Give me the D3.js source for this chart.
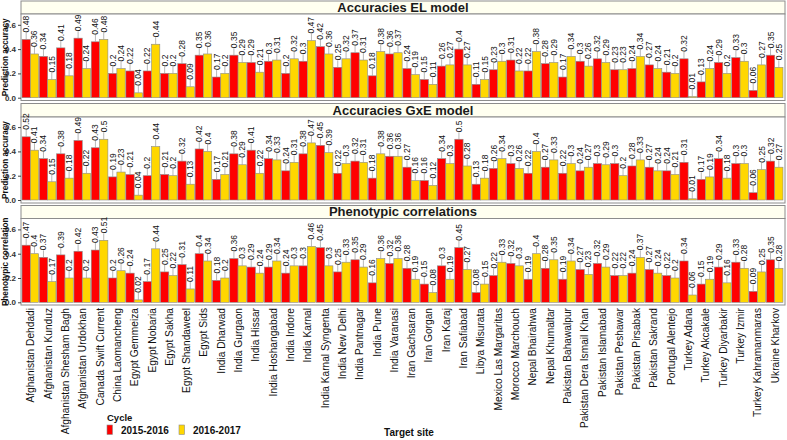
<!DOCTYPE html>
<html><head><meta charset="utf-8">
<script src="https://cdn.jsdelivr.net/npm/d3@7"></script>
<style>body{margin:0;background:#fff;} svg{display:block;font-family:"Liberation Sans",Arial,sans-serif;}</style>
</head><body>
<svg id="chart" width="787" height="440"></svg>
<script>
const categories = ["Afghanistan Dehdadi","Afghanistan Kunduz","Afghanistan Shesham Bagh","Afghanistan Urdokhan","Canada Swift Current","China Laomancheng","Egypt Gemmeiza","Egypt Nobaria","Egypt Sakha","Egypt Shandaweel","Egypt Sids","India Dharwad","India Gurgaon","India Hissar","India Hoshangabad","India Indore","India Karnal","India Karnal Syngenta","India New Delhi","India Pantnagar","India Pune","India Varanasi","Iran Gachsaran","Iran Gorgan","Iran Karaj","Iran Safiabad","Libya Misurata","Mexico Las Margaritas","Morocco Marchouch","Nepal Bhairahwa","Nepal Khumaltar","Pakistan Bahawalpur","Pakistan Dera Ismail Khan","Pakistan Islamabad","Pakistan Peshawar","Pakistan Pirsabak","Pakistan Sakrand","Portugal Alentejo","Turkey Adana","Turkey Akcakale","Turkey Diyarbakir","Turkey Izmir","Turkey Kahramanmaras","Ukraine Kharkov"];
const cycles = ["2015-2016","2016-2017"];
const panelTitles = ["Accuracies EL model","Accuracies GxE model","Phenotypic correlations"];
const yTitles = ["Prediction accuracy","Prediction accuracy","Phenotypic correlation"];
const yTicks = [0.0,0.2,0.4,0.6];

const elCycle1 = [0.48,0.34,0.41,0.49,0.46,0.2,0.22,0.22,0.2,0.28,0.35,0.17,0.35,0.29,0.3,0.2,0.3,0.42,0.25,0.37,0.18,0.36,0.24,0.15,0.26,0.4,0.11,0.23,0.31,0.22,0.28,0.17,0.3,0.32,0.23,0.24,0.27,0.21,0.32,0.13,0.29,0.33,0.06,0.35];
const elCycle2 = [0.36,0.15,0.18,0.24,0.48,0.24,0.04,0.44,0.2,0.09,0.36,0.2,0.29,0.21,0.31,0.32,0.47,0.36,0.32,0.31,0.38,0.37,0.19,0.11,0.27,0.27,0.15,0.3,0.22,0.38,0.29,0.34,0.26,0.29,0.23,0.34,0.24,0.2,0.01,0.24,0.2,0.3,0.27,0.25];
const gxeCycle1 = [0.52,0.34,0.38,0.49,0.43,0.19,0.21,0.2,0.21,0.32,0.42,0.17,0.38,0.41,0.34,0.24,0.38,0.45,0.22,0.32,0.18,0.36,0.27,0.16,0.34,0.5,0.13,0.26,0.3,0.22,0.27,0.22,0.24,0.3,0.3,0.28,0.27,0.24,0.31,0.17,0.34,0.3,0.06,0.32];
const gxeCycle2 = [0.41,0.15,0.18,0.22,0.5,0.23,0.04,0.44,0.2,0.13,0.4,0.21,0.29,0.22,0.33,0.31,0.47,0.39,0.3,0.31,0.38,0.36,0.16,0.12,0.3,0.28,0.18,0.34,0.26,0.4,0.33,0.3,0.27,0.29,0.2,0.33,0.24,0.21,0.01,0.19,0.18,0.3,0.25,0.27];
const phenCycle1 = [0.47,0.37,0.39,0.42,0.43,0.2,0.24,0.17,0.25,0.31,0.4,0.18,0.36,0.29,0.29,0.24,0.3,0.45,0.25,0.35,0.16,0.32,0.28,0.15,0.3,0.45,0.08,0.22,0.32,0.19,0.28,0.19,0.27,0.32,0.22,0.24,0.27,0.22,0.34,0.15,0.29,0.33,0.09,0.35];
const phenCycle2 = [0.4,0.17,0.2,0.2,0.51,0.26,0.02,0.44,0.22,0.11,0.34,0.2,0.3,0.24,0.34,0.3,0.46,0.3,0.33,0.29,0.36,0.36,0.19,0.08,0.19,0.27,0.15,0.33,0.3,0.4,0.35,0.34,0.23,0.29,0.22,0.37,0.24,0.2,0.06,0.19,0.16,0.28,0.25,0.28];

const panelSeries = [[elCycle1,elCycle2],[gxeCycle1,gxeCycle2],[phenCycle1,phenCycle2]];
const colors = ["#FF0000","#FFD700"];

const svg = d3.select("#chart");
const left = 21, right = 785;
const x = d3.scaleBand().domain(categories).range([left+0.5, right-1.5]).paddingInner(0.04).paddingOuter(0.03);
const xs = d3.scaleBand().domain(cycles).range([0, x.bandwidth()]);

const panels = [
  {stripTop:1, stripBot:14, plotBot:100.5, y0:97.7},
  {stripTop:103.5, stripBot:117, plotBot:203, y0:200},
  {stripTop:205.5, stripBot:218.5, plotBot:305, y0:302.3}
];
const pxPerUnit = 121.5;

panels.forEach((p,i)=>{
  const y = d3.scaleLinear().domain([0, (p.y0 - p.stripBot)/pxPerUnit]).range([p.y0, p.stripBot]);
  const g = svg.append("g");
  g.append("rect").attr("x",left).attr("y",p.stripTop).attr("width",right-left).attr("height",p.stripBot-p.stripTop)
    .attr("fill","#FFFFF0").attr("stroke","#8c8c8c").attr("stroke-width",1);
  g.append("text").attr("x",(left+right)/2).attr("y",p.stripBot-2.5).attr("text-anchor","middle")
    .attr("font-size",13).attr("font-weight","bold").attr("fill","#1a1a1a").text(panelTitles[i]);
  g.append("rect").attr("x",left).attr("y",p.stripBot).attr("width",right-left).attr("height",p.plotBot-p.stripBot)
    .attr("fill","#fff").attr("stroke","#8c8c8c").attr("stroke-width",1);
  const ax = g.append("g").attr("transform",`translate(${left},0)`)
    .call(d3.axisLeft(y).tickValues(yTicks).tickFormat(d3.format(".1f")).tickSize(3).tickPadding(2));
  ax.select(".domain").remove();
  ax.selectAll("line").attr("stroke","#444");
  ax.selectAll("text").attr("font-size",8).attr("font-weight","bold").attr("fill","#333")
    .attr("font-family","Liberation Sans, Arial, sans-serif");
  g.append("text").attr("transform",`translate(8,${(p.stripBot+p.plotBot)/2}) rotate(-90)`)
    .attr("text-anchor","middle").attr("font-size",8.2).attr("font-weight","bold").attr("fill","#111").text(yTitles[i]);
  panelSeries[i].forEach((vals,s)=>{
    const data = categories.map((c,k)=>({c, v:vals[k]}));
    const bg = g.append("g");
    bg.selectAll("rect").data(data).join("rect")
      .attr("x",d=>x(d.c)+xs(cycles[s])).attr("width",xs.bandwidth())
      .attr("y",d=>y(d.v)).attr("height",d=>y(0)-y(d.v))
      .attr("fill",colors[s]).attr("stroke","#8a8a8a").attr("stroke-width",0.6);
    const gap = 7;
    bg.selectAll("line.lead").data(data).join("line").attr("class","lead")
      .attr("x1",d=>x(d.c)+xs(cycles[s])+xs.bandwidth()/2).attr("x2",d=>x(d.c)+xs(cycles[s])+xs.bandwidth()/2)
      .attr("y1",d=>y(d.v)).attr("y2",d=>y(d.v)-gap)
      .attr("stroke","#999").attr("stroke-width",0.7);
    bg.selectAll("text").data(data).join("text")
      .attr("transform",d=>`translate(${x(d.c)+xs(cycles[s])+xs.bandwidth()/2+3},${y(d.v)-gap}) rotate(-90)`)
      .attr("font-size",8.5).attr("fill","#111").text(d=>String(d.v));
  });
});

const last = panels[2];
const xl = svg.append("g").attr("transform",`translate(0,${last.plotBot})`)
  .call(d3.axisBottom(x).tickSize(0).tickPadding(0));
xl.select(".domain").remove();
xl.selectAll("text").attr("font-size",10.2).attr("fill","#111").attr("font-family","Liberation Sans, Arial, sans-serif")
  .attr("text-anchor","end").attr("dy",null).attr("y",0)
  .attr("transform","translate(4,3) rotate(-90)");

const lg = svg.append("g");
lg.append("text").attr("x",107).attr("y",421).attr("font-size",9.5).attr("font-weight","bold").attr("fill","#111").text("Cycle");
cycles.forEach((c,i)=>{
  const lx = [107,179][i];
  lg.append("rect").attr("x",lx).attr("y",425).attr("width",5.5).attr("height",9.5).attr("fill",colors[i]).attr("stroke","#8a8a8a").attr("stroke-width",0.6);
  lg.append("text").attr("x",lx+14).attr("y",434).attr("font-size",10).attr("font-weight","bold").attr("fill","#111").text(c);
});
svg.append("text").attr("x",409).attr("y",436).attr("text-anchor","middle").attr("font-size",10).attr("font-weight","bold").attr("fill","#111").text("Target site");
</script>
</body></html>
